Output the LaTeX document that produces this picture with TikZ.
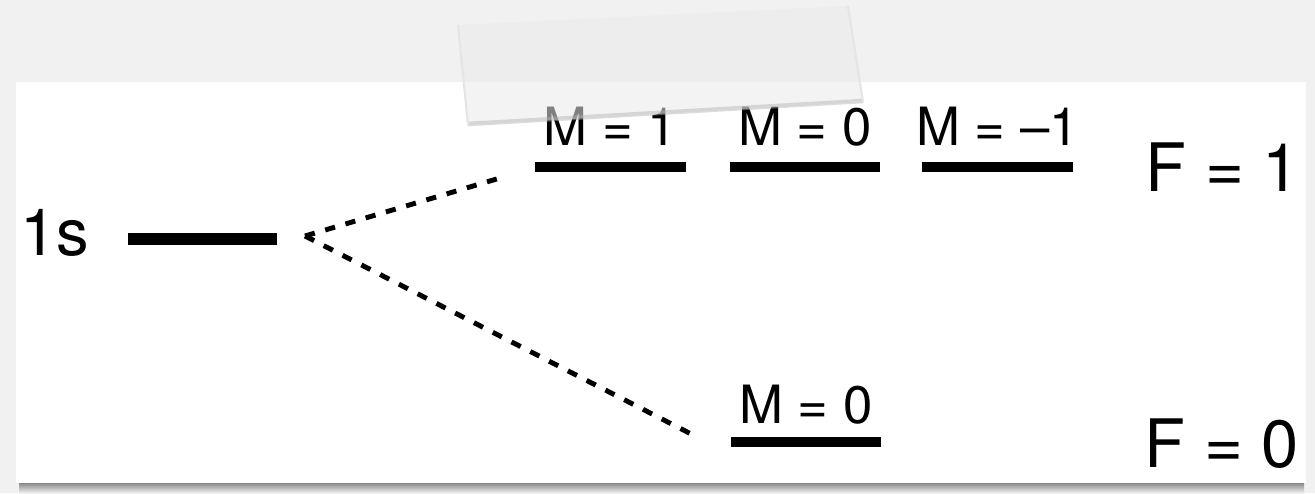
\documentclass[tikz,border=0pt]{standalone}
\usepackage{fontspec}
\setmainfont{TeX Gyre Heros}
\usepackage{tikz}
\usetikzlibrary{positioning}
\definecolor{PaperGray}{RGB}{241,241,241}
\definecolor{TapeGray}{RGB}{234,234,234}

\begin{document}
\begin{tikzpicture}[x=0.01cm,y=-0.01cm,
  level/.style={fill=black,inner sep=0pt,minimum width=1.5cm,minimum height=0.105cm},
  mlabel/.style={font=\fontsize{15}{18}\selectfont,inner sep=0pt},
  flabel/.style={font=\fontsize{19}{22}\selectfont,anchor=base west,inner sep=0pt},
  branch/.style={line width=1.4pt,dash pattern=on 2.9pt off 3.1pt}]
  % sheet, card and its shadow
  \useasboundingbox (0,0) rectangle (1315,493);
  \fill[PaperGray] (0,0) rectangle (1315,493);
  \shade[top color=black!50,bottom color=PaperGray] (19,482) rectangle (1304,493);
  \fill[white] (16,82) rectangle (1306,483);
  % levels
  \node[level,minimum width=1.49cm,minimum height=0.12cm] (s1) at (202.5,239) {};
  \node[level] (up1) at (610.5,167) {};
  \node[level] (up0) at (805,167) {};
  \node[level] (upm1) at (997.5,167) {};
  \node[level] (low0) at (806,442) {};
  \node[flabel,font=\fontsize{18.5}{22}\selectfont] (lbls) at (20,255) {1s};
  \node[mlabel,above=0.145cm of up1] (lblup1) {M = 1};
  \node[mlabel,above=0.145cm of up0] (lblup0) {M = 0};
  \node[mlabel,above=0.145cm of upm1] (lblupm1) {M = \textendash1};
  \node[mlabel,above=0.11cm of low0] (lbllow0) {M = 0};
  \node[flabel] (lblF1) at (1145,191) {F = 1};
  \node[flabel] (lblF0) at (1144,467) {F = 0};
  % splitting
  \coordinate (fork) at (305,236);
  \coordinate (upend) at (500,178);
  \coordinate (lowend) at (697,437);
  \draw[branch] (fork) -- (upend);
  \draw[branch] (fork) -- (lowend);
  % tape
  \fill[TapeGray,opacity=0.55] (458,25) -- (848,6) -- (863,102) -- (468,125) -- cycle;
  \draw[black!30,line width=1.3pt,opacity=0.45] (468,124) -- (863,101);
  \draw[black!10,line width=0.6pt] (458,25) -- (468,125) (848,6) -- (863,102);
\end{tikzpicture}
\end{document}
